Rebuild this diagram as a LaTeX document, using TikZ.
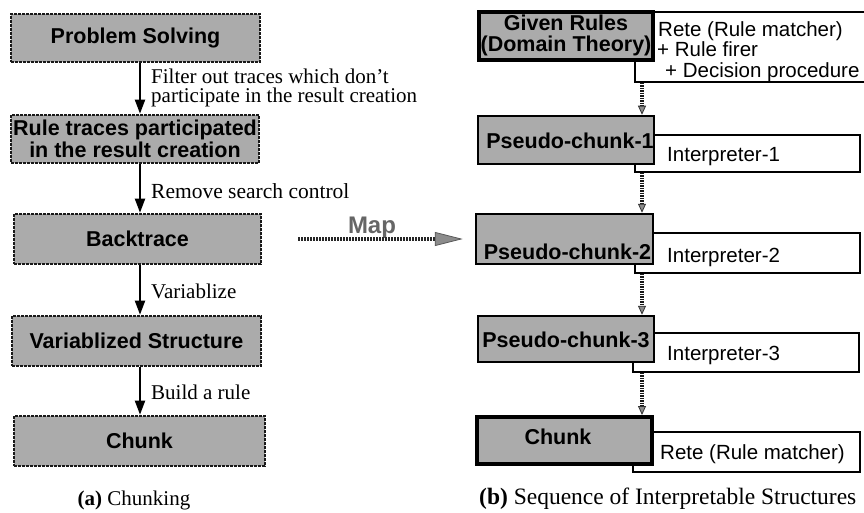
\documentclass[tikz,border=0pt]{standalone}
\usepackage{fontspec}
\setmainfont{Liberation Serif}
\setsansfont{Liberation Sans}
\usetikzlibrary{arrows.meta}

\begin{document}
\begin{tikzpicture}[x=1pt,y=-1pt,
  boxfont/.style={font=\sffamily\bfseries\fontsize{21.5}{21.5}\selectfont},
  stage/.style={boxfont, draw=black!90, line width=2.6pt, dash pattern=on 3pt off 1pt,
    fill=black!33, inner sep=0pt, align=center},
  pchunk/.style={draw=black, line width=2.5pt, fill=black!33, inner sep=0pt},
  heavy/.style={pchunk, line width=4pt},
  boxtext/.style={boxfont, inner sep=0pt, align=center},
  interp/.style={draw=black, line width=1.4pt, fill=white, inner sep=0pt},
  interptext/.style={font=\sffamily\fontsize{20.5}{19}\selectfont, anchor=base west, inner sep=0pt},
  steplabel/.style={font=\fontsize{21}{19.5}\selectfont, anchor=west, inner sep=0pt, align=left},
  caption/.style={font=\fontsize{21}{21}\selectfont, inner sep=0pt},
  flow/.style={line width=2pt, -{Triangle[length=14pt,width=10pt]}},
  seqarrow/.style={line width=3.5pt, black!90, dash pattern=on 1.5pt off 1pt,
    -{Triangle[length=9pt,width=8pt,fill=black!45,color=black!80,line width=0.8pt]}},
  maparrow/.style={line width=3.5pt, black!85, dash pattern=on 2pt off 1pt,
    -{Triangle[length=28pt,width=14pt,fill=black!45,color=black!65,line width=0.8pt]}},
]
\useasboundingbox (0,0) rectangle (864,513);

% ---------- (a) Chunking ----------
\node[stage, minimum width=249pt, minimum height=48pt] (ps) at (135.5,38) {Problem Solving};
\node[stage, minimum width=248pt, minimum height=48pt] (rt) at (135,139)
  {Rule traces participated\\in the result creation};
\node[stage, minimum width=247pt, minimum height=50pt] (bt) at (137.5,239) {Backtrace};
\node[stage, minimum width=249pt, minimum height=50pt] (vs) at (136.5,341) {Variablized Structure};
\node[stage, minimum width=251pt, minimum height=50pt] (ck) at (139.5,441) {Chunk};

\coordinate (lx) at (140,0);
\draw[flow] (ps.south -| lx) -- (rt.north -| lx);
\draw[flow] (rt.south -| lx) -- (bt.north -| lx);
\draw[flow] (bt.south -| lx) -- (vs.north -| lx);
\draw[flow] (vs.south -| lx) -- (ck.north -| lx);

\node[steplabel] (l1) at (151,88) {Filter out traces which don't\\participate in the result creation};
\node[steplabel, font=\fontsize{21.5}{19.5}\selectfont] (l2) at (151,191) {Remove search control};
\node[steplabel] (l3) at (151,291) {Variablize};
\node[steplabel] (l4) at (151,392) {Build a rule};

\node[caption] (capa) at (134,500) {\textbf{(a)} Chunking};

% ---------- (b) Sequence of interpretable structures ----------
% interpreter boxes sit behind the structure boxes
\node[interp, minimum width=231pt, minimum height=70pt] (i0) at (750.5,47) {};
\node[interp, minimum width=225pt, minimum height=37pt] (i1) at (747.5,153.5) {};
\node[interp, minimum width=225pt, minimum height=40pt] (i2) at (747.5,253) {};
\node[interp, minimum width=226pt, minimum height=39pt] (i3) at (746,352.5) {};
\node[interp, minimum width=227pt, minimum height=40pt] (i4) at (746.5,452) {};

\node[interptext] (t0a) at (658,37) {Rete (Rule matcher)};
\node[interptext] (t0b) at (657,57) {+ Rule firer};
\node[interptext] (t0c) at (665,78) {+ Decision procedure};
\node[interptext] (t1) at (667,162) {Interpreter-1};
\node[interptext] (t2) at (667,262) {Interpreter-2};
\node[interptext] (t3) at (667,360) {Interpreter-3};
\node[interptext] (t4) at (660,459) {Rete (Rule matcher)};

\node[heavy, minimum width=174pt, minimum height=48pt] (gr) at (566,36) {};
\node[pchunk, minimum width=176pt, minimum height=48pt] (p1) at (566,140) {};
\node[pchunk, minimum width=177pt, minimum height=50pt] (p2) at (564.5,239) {};
\node[pchunk, minimum width=176pt, minimum height=46pt] (p3) at (566,339) {};
\node[heavy, minimum width=175pt, minimum height=47pt] (ck2) at (564.5,440.5) {};

\node[boxtext, font=\sffamily\bfseries\fontsize{21.5}{21}\selectfont] (grt) at (566,35.5) {Given Rules\\(Domain Theory)};
\node[boxtext] (p1t) at (570,141) {Pseudo-chunk-1};
\node[boxtext] (p2t) at (567.5,252) {Pseudo-chunk-2};
\node[boxtext] (p3t) at (566,340) {Pseudo-chunk-3};
\node[boxtext] (ck2t) at (558,437) {Chunk};

\coordinate (rx) at (642,0);
\draw[seqarrow] (i0.south -| rx) -- (p1.north -| rx);
\draw[seqarrow] (i1.south -| rx) -- (p2.north -| rx);
\draw[seqarrow] (i2.south -| rx) -- (p3.north -| rx);
\draw[seqarrow] (i3.south -| rx) -- (ck2.north -| rx);

\node[caption, anchor=west, font=\fontsize{23.5}{23.5}\selectfont] (capb) at (479,499) {\textbf{(b)} Sequence of Interpretable Structures};

% ---------- Map ----------
\node[font=\sffamily\bfseries\fontsize{24}{24}\selectfont, text=black!60, inner sep=0pt] (map) at (372,228) {Map};
\draw[maparrow] ([xshift=36pt]bt.east) -- ([xshift=-12pt]p2.west);
\end{tikzpicture}
\end{document}
